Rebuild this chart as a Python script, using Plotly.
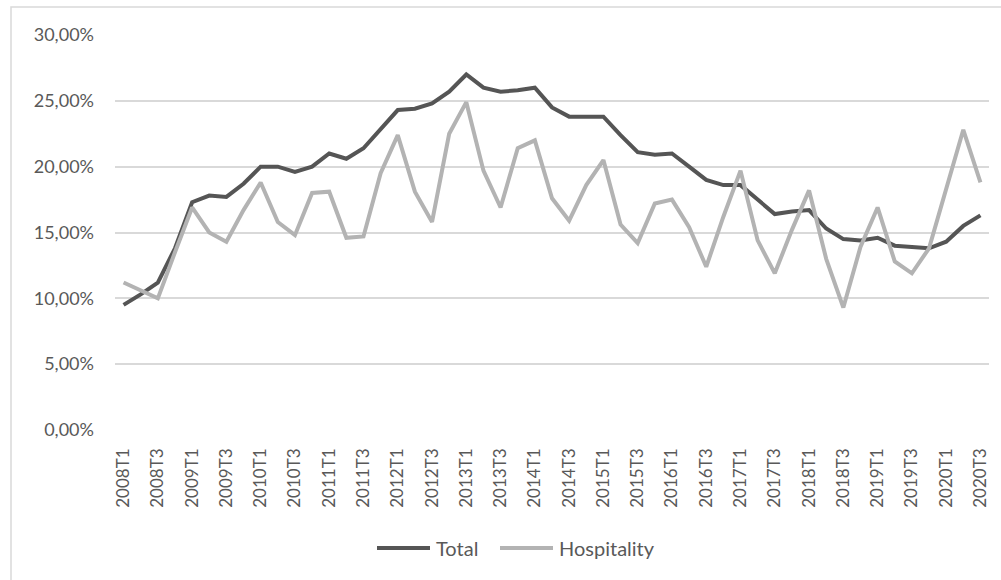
import plotly.graph_objects as go

# Quarterly periods 2008T1 .. 2020T3
years = list(range(2008, 2021))
periods = [f"{y}T{q}" for y in years for q in range(1, 5)][:51]

# Share (%) per quarter
total = [9.5, 10.3, 11.2, 13.8, 17.3, 17.8, 17.7, 18.7, 20.0, 20.0,
         19.6, 20.0, 21.0, 20.6, 21.4, 22.9, 24.3, 24.4, 24.8, 25.7,
         27.0, 26.0, 25.7, 25.8, 26.0, 24.5, 23.8, 23.8, 23.8, 22.4,
         21.1, 20.9, 21.0, 20.0, 19.0, 18.6, 18.6, 17.5, 16.4, 16.6,
         16.7, 15.3, 14.5, 14.4, 14.6, 14.0, 13.9, 13.8, 14.3, 15.5,
         16.3]
hospitality = [11.2, 10.6, 10.0, 13.5, 16.9, 15.0, 14.3, 16.7, 18.8, 15.8,
               14.8, 18.0, 18.1, 14.6, 14.7, 19.5, 22.4, 18.1, 15.8, 22.5,
               24.9, 19.7, 16.9, 21.4, 22.0, 17.6, 15.9, 18.6, 20.5, 15.6,
               14.2, 17.2, 17.5, 15.4, 12.4, 16.2, 19.7, 14.4, 11.9, 15.2,
               18.2, 13.0, 9.3, 13.9, 16.9, 12.8, 11.9, 13.8, 18.2, 22.8,
               18.8]

y_ticks = [0, 5, 10, 15, 20, 25, 30]
y_labels = ["0,00%", "5,00%", "10,00%", "15,00%", "20,00%", "25,00%", "30,00%"]

series_names = ["Total", "Hospitality"]
series_colors = ["#555555", "#b3b3b3"]

FONT = "Lato"
TEXT = "#595959"

idx = list(range(len(periods)))
fig = go.Figure()
for name, vals, col in zip(series_names, [total, hospitality], series_colors):
    fig.add_trace(go.Scatter(x=idx, y=vals, mode="lines", name=name,
                             line=dict(color=col, width=4),
                             showlegend=False))

fig.update_layout(
    width=1001, height=580,
    margin=dict(l=115, r=12, t=35, b=150),
    paper_bgcolor="white", plot_bgcolor="white",
    font=dict(family=FONT, color=TEXT, size=16),
)
fig.update_xaxes(
    range=[-0.5, len(periods) - 0.5],
    tickmode="array", tickvals=idx[::2], ticktext=periods[::2],
    tickangle=-90, showgrid=False, zeroline=False, showline=False,
    ticks="", ticklabelstandoff=14,
    tickfont=dict(family=FONT, size=17, color=TEXT),
)
fig.update_yaxes(
    range=[0, 30], tickmode="array", tickvals=y_ticks, ticktext=y_labels,
    showgrid=True, gridcolor="#d9d9d9", gridwidth=1.5, zeroline=False,
    showline=False, ticks="", ticklabelstandoff=20,
    tickfont=dict(family=FONT, size=18, color=TEXT),
)

# Outer chart border
fig.add_shape(type="rect", xref="paper", yref="paper",
              x0=(11 - 115) / 874, x1=(1010 - 115) / 874,
              y0=(430 - 590) / 395, y1=(430 - 7) / 395,
              line=dict(color="#d9d9d9", width=1.5), fillcolor="rgba(0,0,0,0)",
              layer="below")

# Legend drawn below the axis
legend_items = [(series_names[0], series_colors[0], 377, 430, 434),
                (series_names[1], series_colors[1], 500, 553, 557)]
for name, col, x0, x1, xt in legend_items:
    fig.add_shape(type="line", xref="paper", yref="paper",
                  x0=(x0 - 115) / 874, x1=(x1 - 115) / 874,
                  y0=(430 - 548) / 395, y1=(430 - 548) / 395,
                  line=dict(color=col, width=4))
    fig.add_annotation(text=name, xref="paper", yref="paper",
                       x=(xt - 115) / 874, y=(430 - 548) / 395,
                       xanchor="left", yanchor="middle", showarrow=False,
                       font=dict(family=FONT, size=20, color=TEXT))

fig.write_html("out.html")
